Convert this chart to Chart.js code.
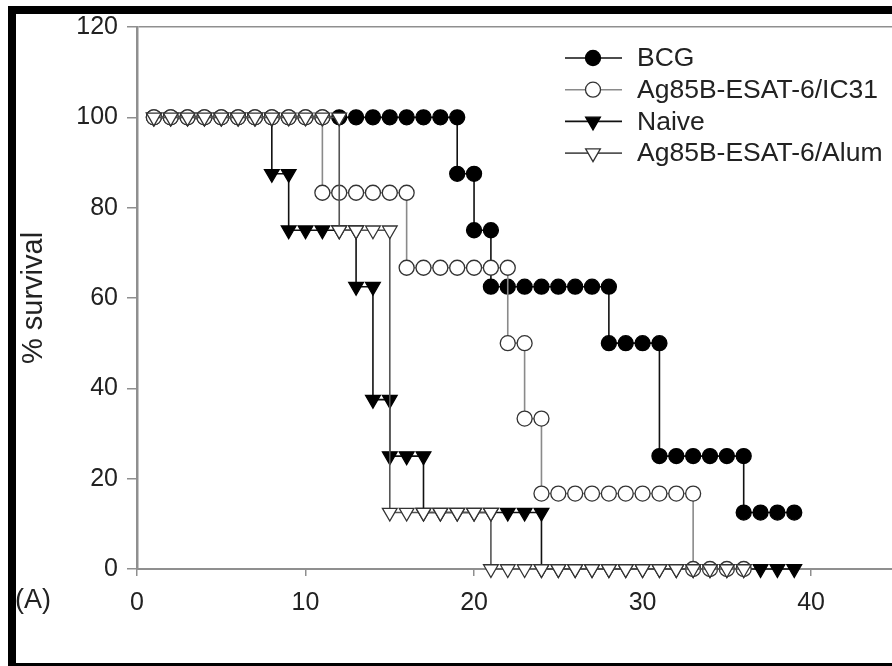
<!DOCTYPE html>
<html>
<head>
<meta charset="utf-8">
<script src="https://cdn.jsdelivr.net/npm/chart.js@4.4.1/dist/chart.umd.min.js"></script>
<style>
html, body { margin: 0; padding: 0; background: #fff; }
#wrap { position: relative; width: 892px; height: 666px; }
</style>
</head>
<body>
<div id="wrap"><canvas id="km"></canvas></div>
<script>
// survival (%) after each day of follow-up
const days = [1, 2, 3, 4, 5, 6, 7, 8, 9, 10, 11, 12, 13, 14, 15, 16, 17, 18, 19, 20,
    21, 22, 23, 24, 25, 26, 27, 28, 29, 30, 31, 32, 33, 34, 35, 36, 37, 38, 39];

const bcg = [100, 100, 100, 100, 100, 100, 100, 100, 100, 100, 100, 100, 100, 100, 100, 100, 100, 100,
    87.5, 75, 62.5, 62.5, 62.5, 62.5, 62.5, 62.5, 62.5, 50, 50, 50, 25, 25, 25, 25, 25,
    12.5, 12.5, 12.5, 12.5];
const ic31 = [100, 100, 100, 100, 100, 100, 100, 100, 100, 100,
    83.3, 83.3, 83.3, 83.3, 83.3, 66.7, 66.7, 66.7, 66.7, 66.7, 66.7, 50, 33.3,
    16.7, 16.7, 16.7, 16.7, 16.7, 16.7, 16.7, 16.7, 16.7, 0, 0, 0, 0];
const naive = [100, 100, 100, 100, 100, 100, 100, 87.5, 75, 75, 75, 75, 62.5, 37.5, 25, 25,
    12.5, 12.5, 12.5, 12.5, 12.5, 12.5, 12.5, 0, 0, 0, 0, 0, 0, 0, 0, 0, 0, 0, 0, 0, 0, 0, 0];
const alum = [100, 100, 100, 100, 100, 100, 100, 100, 100, 100, 100, 75, 75, 75,
    12.5, 12.5, 12.5, 12.5, 12.5, 12.5, 0, 0, 0, 0, 0, 0, 0, 0, 0, 0, 0, 0, 0, 0, 0, 0];

const seriesNames = ['BCG', 'Ag85B-ESAT-6/IC31', 'Naive', 'Ag85B-ESAT-6/Alum'];

const axisGray = '#8f8f8f';
const textColor = '#222';
const fontFamily = '"Liberation Sans", Arial, Helvetica, sans-serif';

// a drop on day d shows a symbol at the old and at the new value
function stepPoints(values) {
    const pts = [];
    values.forEach((v, i) => {
        if (i > 0 && values[i - 1] !== v) pts.push({ x: days[i], y: values[i - 1] });
        pts.push({ x: days[i], y: v });
    });
    return pts;
}

function drawMarker(ctx, ds, x, y) {
    const r = ds.pointRadius;
    ctx.beginPath();
    if (ds.pointStyle === 'circle') {
        ctx.arc(x, y, r, 0, Math.PI * 2);
    } else {
        const s = Math.sin(Math.PI / 3) * r;
        ctx.moveTo(x, y + r);
        ctx.lineTo(x - s, y - r / 2);
        ctx.lineTo(x + s, y - r / 2);
        ctx.closePath();
    }
    ctx.fillStyle = ds.pointBackgroundColor;
    ctx.fill();
    ctx.lineWidth = ds.pointBorderWidth;
    ctx.strokeStyle = ds.pointBorderColor;
    ctx.stroke();
}

const legendPlugin = {
    id: 'kmLegend',
    afterDatasetsDraw(chart) {
        const ctx = chart.ctx;
        ctx.save();
        chart.data.datasets.forEach((ds, i) => {
            const y = 58 + i * 31.7;
            ctx.strokeStyle = ds.borderColor;
            ctx.lineWidth = ds.borderWidth;
            ctx.beginPath();
            ctx.moveTo(565, y);
            ctx.lineTo(622, y);
            ctx.stroke();
            drawMarker(ctx, ds, 593, y);
            ctx.fillStyle = textColor;
            ctx.font = '26.5px ' + fontFamily;
            ctx.textAlign = 'left';
            ctx.textBaseline = 'middle';
            ctx.fillText(ds.label, 637, y + 1);
        });
        ctx.restore();
    }
};

const framePlugin = {
    id: 'frame',
    afterDraw(chart) {
        const ctx = chart.ctx;
        ctx.save();
        ctx.fillStyle = '#000';
        ctx.fillRect(8, 6, 8, 660);
        ctx.fillRect(8, 6, 884, 8);
        ctx.fillRect(8, 663, 884, 3);
        ctx.fillStyle = textColor;
        ctx.font = '27px ' + fontFamily;
        ctx.textBaseline = 'middle';
        ctx.fillText('(A)', 15, 601);
        ctx.restore();
    }
};

const lineDefaults = {
    showLine: true,
    tension: 0,
    borderWidth: 1.6,
    pointBorderWidth: 1.3,
    pointHoverRadius: 0,
    clip: false
};

new Chart(document.getElementById('km'), {
    type: 'scatter',
    data: {
        datasets: [
            { ...lineDefaults, label: seriesNames[0], data: stepPoints(bcg), order: 4,
              borderColor: '#111', pointStyle: 'circle', pointRadius: 7.5,
              pointBackgroundColor: '#000', pointBorderColor: '#000' },
            { ...lineDefaults, label: seriesNames[1], data: stepPoints(ic31), order: 2,
              borderColor: '#8a8a8a', pointStyle: 'circle', pointRadius: 7.5,
              pointBackgroundColor: '#fff', pointBorderColor: '#333' },
            { ...lineDefaults, label: seriesNames[2], data: stepPoints(naive), order: 3,
              borderColor: '#111', pointStyle: 'triangle', pointRotation: 180, pointRadius: 8.5,
              pointBackgroundColor: '#000', pointBorderColor: '#000' },
            { ...lineDefaults, label: seriesNames[3], data: stepPoints(alum), order: 1,
              borderColor: '#555', pointStyle: 'triangle', pointRotation: 180, pointRadius: 8.5,
              pointBackgroundColor: '#fff', pointBorderColor: '#333' }
        ]
    },
    options: {
        responsive: true,
        maintainAspectRatio: false,
        animation: false,
        layout: { autoPadding: false, padding: { top: 27, right: 0, bottom: 0, left: 0 } },
        plugins: {
            legend: { display: false },
            tooltip: { enabled: false }
        },
        scales: {
            x: {
                type: 'linear',
                min: 0,
                max: 44.8,
                afterFit: s => { s.height = 97; },
                border: { display: true, color: axisGray, width: 2 },
                grid: { drawOnChartArea: false, tickLength: 7, tickColor: axisGray, lineWidth: 1.5 },
                ticks: {
                    stepSize: 10,
                    includeBounds: false,
                    padding: 12,
                    color: textColor,
                    font: { family: fontFamily, size: 25 }
                }
            },
            y: {
                min: 0,
                max: 120,
                afterFit: s => { s.width = 137; },
                border: { display: true, color: axisGray, width: 2.5 },
                grid: {
                    color: c => (c.tick && c.tick.value === 120 ? axisGray : 'transparent'),
                    tickColor: axisGray,
                    tickLength: 10,
                    lineWidth: 1.5
                },
                ticks: {
                    stepSize: 20,
                    padding: 9,
                    color: textColor,
                    font: { family: fontFamily, size: 25 }
                },
                title: {
                    display: true,
                    text: '% survival',
                    color: textColor,
                    padding: { top: 17, bottom: 0 },
                    font: { family: fontFamily, size: 29 }
                }
            }
        }
    },
    plugins: [legendPlugin, framePlugin]
});
</script>
</body>
</html>
